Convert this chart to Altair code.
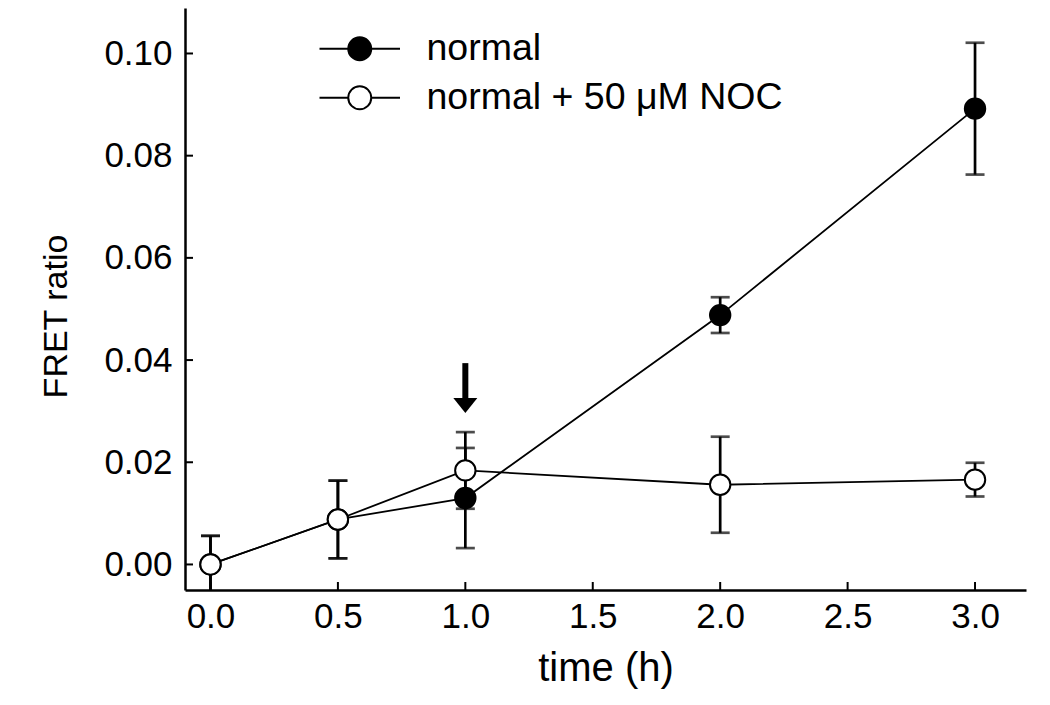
import altair as alt
import pandas as pd

# ---- data ----
time_h = [0.0, 0.5, 1.0, 2.0, 3.0]
normal_mean = [0.0, 0.0088, 0.0130, 0.0488, 0.0892]
normal_err = [0.0056, 0.0076, 0.0098, 0.0035, 0.0129]
noc_mean = [0.0, 0.0088, 0.0184, 0.0156, 0.0166]
noc_err = [0.0056, 0.0076, 0.0075, 0.0094, 0.0033]
series_names = ["normal", "normal + 50 \u03bcM NOC"]
x_ticks = [0.0, 0.5, 1.0, 1.5, 2.0, 2.5, 3.0]
y_ticks = [0.00, 0.02, 0.04, 0.06, 0.08, 0.10]
arrow_x = [1.0]
arrow_top = [0.0394]
arrow_head = [0.0311]

rows = []
for name, means, errs in [(series_names[0], normal_mean, normal_err),
                          (series_names[1], noc_mean, noc_err)]:
    for t, m, e in zip(time_h, means, errs):
        rows.append({"time": t, "ratio": m, "lo": m - e, "hi": m + e, "series": name})
df = pd.DataFrame(rows)
arrow_df = pd.DataFrame({"x": arrow_x, "top": arrow_top, "head": arrow_head})
xt_df = pd.DataFrame({"v": x_ticks})
yt_df = pd.DataFrame({"v": y_ticks})

FONT = "Liberation Sans"
W, H = 841, 582
TICK = 8
xscale = alt.Scale(domain=[-0.1, 3.2], nice=False, zero=False)
yscale = alt.Scale(domain=[-0.005, 0.1089], nice=False, zero=False)

xaxis = alt.Axis(values=x_ticks, format=".1f", title="time (h)", grid=False,
                 labelFontSize=35, titleFontSize=40, labelPadding=9,
                 titlePadding=14, labelFont=FONT, titleFont=FONT,
                 titleFontWeight="normal", labelColor="black", titleColor="black",
                 domainColor="black", domainWidth=2.5, ticks=False,
                 labelFlush=False)
yaxis = alt.Axis(values=y_ticks, format=".2f", title="FRET ratio", grid=False,
                 labelFontSize=35, titleFontSize=34, labelPadding=13,
                 titlePadding=30, titleY=308, labelFont=FONT, titleFont=FONT,
                 titleFontWeight="normal", labelColor="black", titleColor="black",
                 domainColor="black", domainWidth=2.5, ticks=False,
                 labelFlush=False)

base = alt.Chart(df)

err_rule = base.mark_rule(color="black", strokeWidth=2.7, clip=True).encode(
    x=alt.X("time:Q", scale=xscale, axis=xaxis),
    y=alt.Y("lo:Q", scale=yscale, axis=yaxis),
    y2="hi:Q",
)
cap_lo = base.mark_tick(color="black", orient="horizontal", size=19,
                        thickness=2.7, clip=True).encode(
    x=alt.X("time:Q", scale=xscale), y=alt.Y("lo:Q", scale=yscale))
cap_hi = base.mark_tick(color="black", orient="horizontal", size=19,
                        thickness=2.7, clip=True).encode(
    x=alt.X("time:Q", scale=xscale), y=alt.Y("hi:Q", scale=yscale))

lines = base.mark_line(color="black", strokeWidth=1.8).encode(
    x=alt.X("time:Q", scale=xscale),
    y=alt.Y("ratio:Q", scale=yscale),
    detail="series:N",
)

legend_path = "M-3.5,0H-1A1,1 0 1,1 1,0A1,1 0 1,1 -1,0M1,0H3.5"
points = base.mark_point(shape="circle", filled=True, stroke="black",
                         strokeWidth=2, opacity=1, size=415).encode(
    x=alt.X("time:Q", scale=xscale),
    y=alt.Y("ratio:Q", scale=yscale),
    fill=alt.Fill("series:N",
                  scale=alt.Scale(domain=series_names, range=["black", "white"]),
                  legend=alt.Legend(title=None, orient="none", legendX=156,
                                    legendY=22, symbolType=legend_path,
                                    symbolSize=529, symbolStrokeColor="black",
                                    symbolStrokeWidth=2, labelFont=FONT,
                                    labelFontSize=37.5, labelColor="black",
                                    labelOffset=48, rowPadding=10,
                                    labelLimit=600, symbolOpacity=1)),
)

# inward axis ticks
x_tick_marks = alt.Chart(xt_df).mark_rule(color="black", strokeWidth=2).encode(
    x=alt.X("v:Q", scale=xscale), y=alt.value(H), y2=alt.value(H - TICK))
y_tick_marks = alt.Chart(yt_df).mark_rule(color="black", strokeWidth=2).encode(
    y=alt.Y("v:Q", scale=yscale), x=alt.value(0), x2=alt.value(TICK))

arrow_shaft = alt.Chart(arrow_df).mark_rule(color="black", strokeWidth=6).encode(
    x=alt.X("x:Q", scale=xscale), y=alt.Y("top:Q", scale=yscale), y2="head:Q")
arrow_tip = alt.Chart(arrow_df).mark_point(
    shape="M-1,-0.625L1,-0.625L0,0.625Z", filled=True, color="black",
    opacity=1, size=576, strokeWidth=0).encode(
    x=alt.X("x:Q", scale=xscale), y=alt.Y("head:Q", scale=yscale))

chart = alt.layer(err_rule, cap_lo, cap_hi, lines, points, x_tick_marks,
                  y_tick_marks, arrow_shaft, arrow_tip).properties(
    width=W, height=H,
    background="white",
    autosize=alt.AutoSizeParams(type="none"),
    padding={"left": 177, "top": 0, "right": 15, "bottom": 110},
).configure_view(strokeWidth=0, stroke="transparent")

chart.save("out.html", embed_options={"renderer": "svg", "actions": False})
